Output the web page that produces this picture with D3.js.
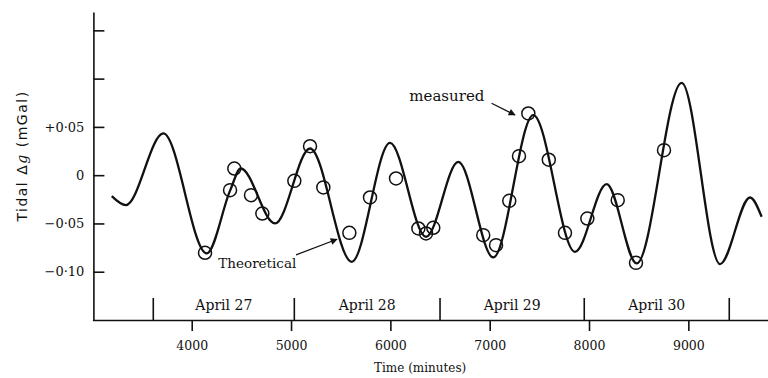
<!DOCTYPE html>
<html>
<head>
<meta charset="utf-8">
<script src="https://cdn.jsdelivr.net/npm/d3@7"></script>
<style>
  body { margin: 0; background: #fff; }
  svg { display: block; }
  text { fill: #111; }
</style>
</head>
<body>
<svg id="chart" width="768" height="378"></svg>
<script>
// theoretical curve (time in minutes, tidal dg in mGal)
const theoTime = [3195, 3336, 3714, 4151, 4388, 4493, 4839, 5191, 5611, 5996, 6359, 6684,
                  7036, 7439, 7859, 8178, 8480, 8933, 9319, 9621, 9738];
const theoVal  = [-0.0217, -0.031, 0.0432, -0.081, -0.0155, 0.0069, -0.050, 0.0276, -0.0897, 0.0334, -0.0639, 0.0138,
                  -0.0852, 0.0621, -0.0794, -0.0093, -0.0914, 0.0956, -0.0921, -0.0231, -0.0431];

// measured points (circles)
const measTime = [4134, 4386, 4429, 4597, 4711, 5033, 5191, 5325, 5587, 5795, 6057,
                  6282, 6359, 6432, 6935, 7064, 7197, 7295, 7389, 7595, 7758, 7983, 8289, 8473, 8755];
const measVal  = [-0.0804, -0.0155, 0.0069, -0.0207, -0.0397, -0.0059, 0.030, -0.0127, -0.0597, -0.0231, -0.0034,
                  -0.0552, -0.0604, -0.0545, -0.0621, -0.0725, -0.0266, 0.0197, 0.0639, 0.016, -0.0597, -0.0449, -0.0259, -0.0908, 0.0259];

// axes
const xTicks = [4000, 5000, 6000, 7000, 8000, 9000];
const yTicks = [0.15, 0.10, 0.05, 0, -0.05, -0.10];
const yTickLabels = {"0.05": "+0·05", "0": "0", "-0.05": "−0·05", "-0.1": "−0·10"};

// day boundaries and names
const dayEdges = [3613, 5033, 6500, 7952, 9412];
const dayNames = ["April 27", "April 28", "April 29", "April 30"];

const svg = d3.select("#chart");
const x = d3.scaleLinear().domain([3000, 9800]).range([92.4, 767.8]);
const y = d3.scaleLinear().domain([-0.15, 0.169]).range([320, 12]);
const serif = "DejaVu Serif, serif";

// x axis
const xAxis = svg.append("g")
    .attr("transform", `translate(0,${y(-0.15)})`)
    .call(d3.axisBottom(x).tickValues(xTicks).tickSizeInner(11).tickSizeOuter(0).tickPadding(10)
        .tickFormat(d3.format("d")));
xAxis.selectAll("text").attr("font-family", serif).attr("font-size", 12.5).attr("fill", "#111");

// y axis, ticks pointing inward
const yAxis = svg.append("g")
    .attr("transform", `translate(${x(3000) + 1},0)`)
    .call(d3.axisLeft(y).tickValues(yTicks).tickSizeInner(-11).tickSizeOuter(0).tickPadding(9)
        .tickFormat(d => yTickLabels[String(+d.toFixed(2))] || ""));
yAxis.selectAll("text").attr("font-family", serif).attr("font-size", 13).attr("fill", "#111");

[xAxis, yAxis].forEach(g => {
  g.selectAll("path, line").attr("stroke", "#111").attr("stroke-width", 1.6);
});

// day dividers
svg.append("g").selectAll("line")
    .data(dayEdges)
    .join("line")
    .attr("x1", d => x(d)).attr("x2", d => x(d))
    .attr("y1", y(-0.15)).attr("y2", y(-0.15) - 22)
    .attr("stroke", "#111").attr("stroke-width", 1.6);

svg.append("g").selectAll("text")
    .data(dayNames)
    .join("text")
    .attr("x", (d, i) => (x(dayEdges[i]) + x(dayEdges[i + 1])) / 2)
    .attr("y", 310)
    .attr("text-anchor", "middle")
    .attr("font-family", serif)
    .attr("font-size", 14)
    .text(d => d);

// axis titles
svg.append("text")
    .attr("x", x(6300))
    .attr("y", 372)
    .attr("text-anchor", "middle")
    .attr("font-family", serif)
    .attr("font-size", 12)
    .text("Time (minutes)");

const yt = svg.append("text")
    .attr("transform", "translate(27,156) rotate(-90)")
    .attr("text-anchor", "middle")
    .attr("font-family", "DejaVu Sans, sans-serif")
    .attr("font-size", 14)
    .attr("letter-spacing", 1.5);
yt.append("tspan").text("Tidal Δ");
yt.append("tspan").attr("font-style", "italic").attr("font-family", serif).text("g");
yt.append("tspan").text(" (mGal)");

// theoretical curve
const pts = theoTime.map((t, i) => [t, theoVal[i]]);
const line = d3.line().x(d => x(d[0])).y(d => y(d[1])).curve(d3.curveMonotoneX);
svg.append("path")
    .datum(pts)
    .attr("d", line)
    .attr("fill", "none")
    .attr("stroke", "#111")
    .attr("stroke-width", 2.3);

// measured circles
svg.append("g").selectAll("circle")
    .data(measTime.map((t, i) => [t, measVal[i]]))
    .join("circle")
    .attr("cx", d => x(d[0]))
    .attr("cy", d => y(d[1]))
    .attr("r", 6.5)
    .attr("fill", "none")
    .attr("stroke", "#111")
    .attr("stroke-width", 1.5);

// annotations
svg.append("defs").append("marker")
    .attr("id", "head")
    .attr("viewBox", "0 0 10 10")
    .attr("refX", 9).attr("refY", 5)
    .attr("markerWidth", 9).attr("markerHeight", 7)
    .attr("markerUnits", "userSpaceOnUse")
    .attr("orient", "auto")
    .append("path").attr("d", "M0,0L10,5L0,10z").attr("fill", "#111");

const notes = [
  {text: "measured", t: 6191, v: 0.0772, from: [7019, 0.0745], to: [7255, 0.0623], size: 15},
  {text: "Theoretical", t: 4268, v: -0.0961, from: [5050, -0.0826], to: [5463, -0.0664], size: 13.5}
];
notes.forEach(n => {
  svg.append("text")
      .attr("x", x(n.t)).attr("y", y(n.v))
      .attr("font-family", serif)
      .attr("font-size", n.size)
      .text(n.text);
  svg.append("line")
      .attr("x1", x(n.from[0])).attr("y1", y(n.from[1]))
      .attr("x2", x(n.to[0])).attr("y2", y(n.to[1]))
      .attr("stroke", "#111").attr("stroke-width", 1.2)
      .attr("marker-end", "url(#head)");
});
</script>
</body>
</html>
